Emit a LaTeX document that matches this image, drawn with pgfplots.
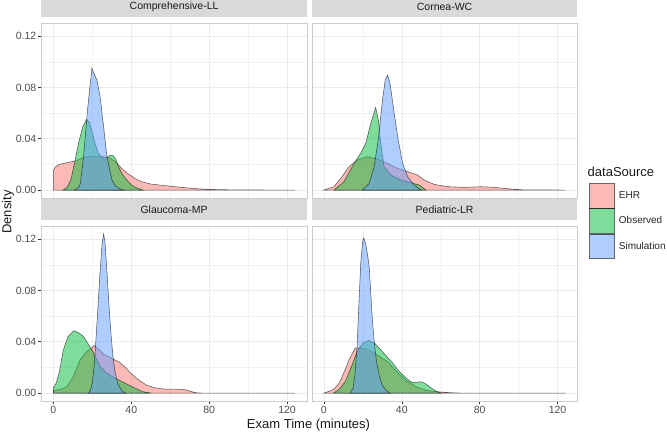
\documentclass[border=0pt]{standalone}
\usepackage{fontspec}
\setmainfont{Liberation Sans}
\usepackage{pgfplots}
\pgfplotsset{compat=1.18}

\definecolor{ehr}{HTML}{F8766D}
\definecolor{obs}{HTML}{00BA38}
\definecolor{sim}{HTML}{619CFF}
\definecolor{stripc}{HTML}{D9D9D9}
\definecolor{borderc}{HTML}{CCCCCC}
\definecolor{gridc}{HTML}{EBEBEB}
\definecolor{labelc}{HTML}{4D4D4D}

\pgfplotsset{
  panel/.style={
    scale only axis, width=265.6pt, height=175pt,
    xmin=-6.2, xmax=130.2, ymin=-0.0062, ymax=0.1302,
    xtick={0,40,80,120}, minor xtick={20,60,100},
    ytick={0,0.04,0.08,0.12}, minor ytick={0.02,0.06,0.10},
    grid=both,
    major grid style={color=gridc, line width=0.5pt},
    minor grid style={color=gridc!70, line width=0.3pt},
    axis line style={draw=borderc, line width=0.6pt},
    tick align=outside, major tick length=3.3pt, minor tick length=0pt,
    xtick pos=lower, ytick pos=left,
    major tick style={draw=black!80, line width=0.5pt},
    ticklabel style={font=\fontsize{10.5}{12}\selectfont, text=labelc},
    /pgf/number format/assume math mode=true,
    scaled y ticks=false,
    yticklabel style={/pgf/number format/fixed, /pgf/number format/fixed zerofill,
      /pgf/number format/precision=2, inner sep=1.5pt},
    xticklabel style={inner sep=1.5pt},
    title style={at={(0.5,1)}, anchor=south, fill=stripc, minimum width=265.6pt,
      minimum height=20.5pt, inner sep=0pt, yshift=0pt, text=black!90,
      font=\fontsize{10.5}{12}\selectfont},
  },
  notx/.style={xticklabels={}, x tick style={draw=none}},
  noty/.style={yticklabels={}, y tick style={draw=none}},
  dens/.style={fill=#1, fill opacity=0.5, draw=black, draw opacity=0.6, line width=0.55pt},
}

\begin{document}
\begin{tikzpicture}

% Comprehensive-LL
\begin{axis}[panel, notx, at={(41.3pt,236pt)}, anchor=south west, title={Comprehensive-LL}]
\addplot[dens=ehr] coordinates {(0,0.015)(1,0.018)(3,0.020)(6,0.021)(9,0.022)(12,0.023)(15,0.025)(18,0.026)(22,0.026)(26,0.026)(29,0.025)(32,0.022)(35,0.017)(38,0.013)(40,0.011)(43,0.008)(46,0.0062)(50,0.0047)(55,0.0038)(60,0.003)(65,0.0022)(70,0.0015)(75,0.0009)(80,0.0005)(90,0.0002)(100,0.0001)(110,0)(124,0)} \closedcycle;
\addplot[dens=obs] coordinates {(5,0)(7,0.002)(9,0.008)(11,0.022)(13,0.037)(15,0.049)(17,0.055)(18.5,0.053)(20,0.045)(21.5,0.036)(23,0.029)(25,0.025)(27,0.025)(29,0.027)(30.5,0.027)(32,0.024)(33.5,0.018)(35.5,0.012)(37.8,0.0078)(40,0.004)(43,0.0015)(46,0)} \closedcycle;
\addplot[dens=sim] coordinates {(11,0)(13,0.002)(13.8,0.0047)(15.5,0.026)(17.5,0.062)(19.8,0.095)(21.2,0.0896)(22.4,0.0857)(24,0.0728)(25.8,0.0494)(27.5,0.026)(30.1,0.0078)(32,0.003)(34.4,0.0005)(36,0)} \closedcycle;
\end{axis}

% Cornea-WC
\begin{axis}[panel, notx, noty, at={(311.8pt,236pt)}, anchor=south west, title={Cornea-WC}]
\addplot[dens=ehr] coordinates {(0,0)(5.2,0.0026)(8.6,0.009)(12.9,0.0182)(17.2,0.0234)(22.3,0.026)(27.5,0.024)(32.7,0.0208)(37.8,0.0169)(43,0.0143)(48.1,0.0117)(51.5,0.0078)(56.7,0.0044)(63.6,0.0026)(72.2,0.0021)(80.8,0.0026)(87.7,0.0021)(94.5,0.001)(103,0.0001)(124,0)} \closedcycle;
\addplot[dens=obs] coordinates {(5.2,0)(10.3,0.0065)(15.5,0.0208)(18.9,0.0286)(21.5,0.0364)(24.1,0.052)(26.6,0.0644)(28,0.0546)(29.2,0.0364)(30.9,0.0182)(34.4,0.0117)(39.5,0.0078)(44.7,0.0057)(49,0.0039)(52.4,0)} \closedcycle;
\addplot[dens=sim] coordinates {(19.8,0)(23.2,0.005)(25.8,0.018)(27.9,0.039)(30.1,0.07)(31.5,0.086)(32.7,0.0896)(34,0.083)(36.1,0.06)(38.2,0.039)(40.4,0.021)(43,0.0104)(46.4,0.0039)(49.8,0)} \closedcycle;
\end{axis}

% Glaucoma-MP
\begin{axis}[panel, at={(41.3pt,33pt)}, anchor=south west, title={Glaucoma-MP}]
\addplot[dens=ehr] coordinates {(0,0.002)(4,0.003)(7,0.005)(10,0.012)(13.8,0.026)(17,0.032)(21,0.037)(23.5,0.034)(26,0.030)(30,0.027)(34,0.024)(37,0.020)(40,0.015)(44,0.010)(48,0.006)(52,0.0042)(56,0.0032)(60,0.003)(64,0.003)(67,0.0028)(70,0.0015)(73,0.0003)(76,0)(124,0)} \closedcycle;
\addplot[dens=obs] coordinates {(0,0.004)(1.5,0.008)(3,0.016)(5,0.033)(7.5,0.044)(10.5,0.0486)(13,0.047)(15.5,0.044)(18,0.038)(20,0.033)(22,0.027)(24,0.021)(27,0.016)(30,0.013)(34,0.0098)(38,0.0068)(42,0.0038)(46,0.001)(50,0)} \closedcycle;
\addplot[dens=sim] coordinates {(18,0)(19,0.002)(20,0.008)(21,0.022)(22,0.045)(23,0.07)(24,0.095)(25,0.116)(25.8,0.124)(26.5,0.118)(27.5,0.095)(28.5,0.07)(29.5,0.048)(30.5,0.03)(31.5,0.018)(33,0.008)(35,0.002)(37,0)} \closedcycle;
\end{axis}

% Pediatric-LR
\begin{axis}[panel, noty, at={(311.8pt,33pt)}, anchor=south west, title={Pediatric-LR},
  legend style={at={(rel axis cs:1.0437,1.2457)}, anchor=north west, draw=none, fill=none,
    font=\fontsize{10}{12}\selectfont, row sep=0pt, inner sep=0pt,
    nodes={inner sep=0pt, text=black!85}, column sep=4.5pt},
  legend cell align=left,
  legend image code/.code={\draw[#1, line width=0.7pt] (0pt,-12.25pt) rectangle (24.5pt,12.25pt);}]
\addplot[dens=ehr] coordinates {(0,0)(3,0.0015)(5.2,0.003)(8,0.008)(10.3,0.016)(13,0.026)(16,0.035)(19,0.035)(22,0.034)(26,0.031)(29,0.028)(32.7,0.0245)(36,0.019)(39.5,0.0134)(43,0.009)(48,0.0044)(53,0.002)(58,0.001)(65,0.0003)(70,0)(124,0)} \closedcycle;
\addlegendentry{EHR}
\addplot[dens=obs] coordinates {(5,0)(8,0.003)(11,0.009)(14,0.02)(17,0.032)(20,0.039)(23,0.041)(26,0.039)(29,0.034)(32,0.029)(35,0.024)(38,0.018)(41,0.0134)(44,0.0095)(46,0.008)(48,0.0085)(50,0.0088)(52,0.0075)(55,0.004)(58,0.0012)(60,0)} \closedcycle;
\addlegendentry{Observed}
\addplot[dens=sim] coordinates {(13.5,0)(15,0.004)(16,0.015)(17,0.035)(18,0.07)(19,0.103)(20,0.119)(20.5,0.121)(21.5,0.116)(22.5,0.107)(23.3,0.098)(24.2,0.075)(25,0.055)(26,0.038)(27,0.025)(28.5,0.013)(30,0.006)(32,0.002)(34,0)} \closedcycle;
\addlegendentry{Simulation}
\end{axis}

\node[anchor=west, font=\fontsize{13}{15}\selectfont, text=black!90, inner sep=0pt] at (587.5pt,262pt) {dataSource};
\node[rotate=90, font=\fontsize{13}{15}\selectfont, text=black!90, inner sep=0pt] at (8pt,222pt) {Density};
\node[font=\fontsize{13}{15}\selectfont, text=black!90, inner sep=0pt] at (308.5pt,9pt) {Exam Time (minutes)};

\pgfresetboundingbox
\path[use as bounding box] (0,0) rectangle (667pt,434pt);
\end{tikzpicture}
\end{document}
